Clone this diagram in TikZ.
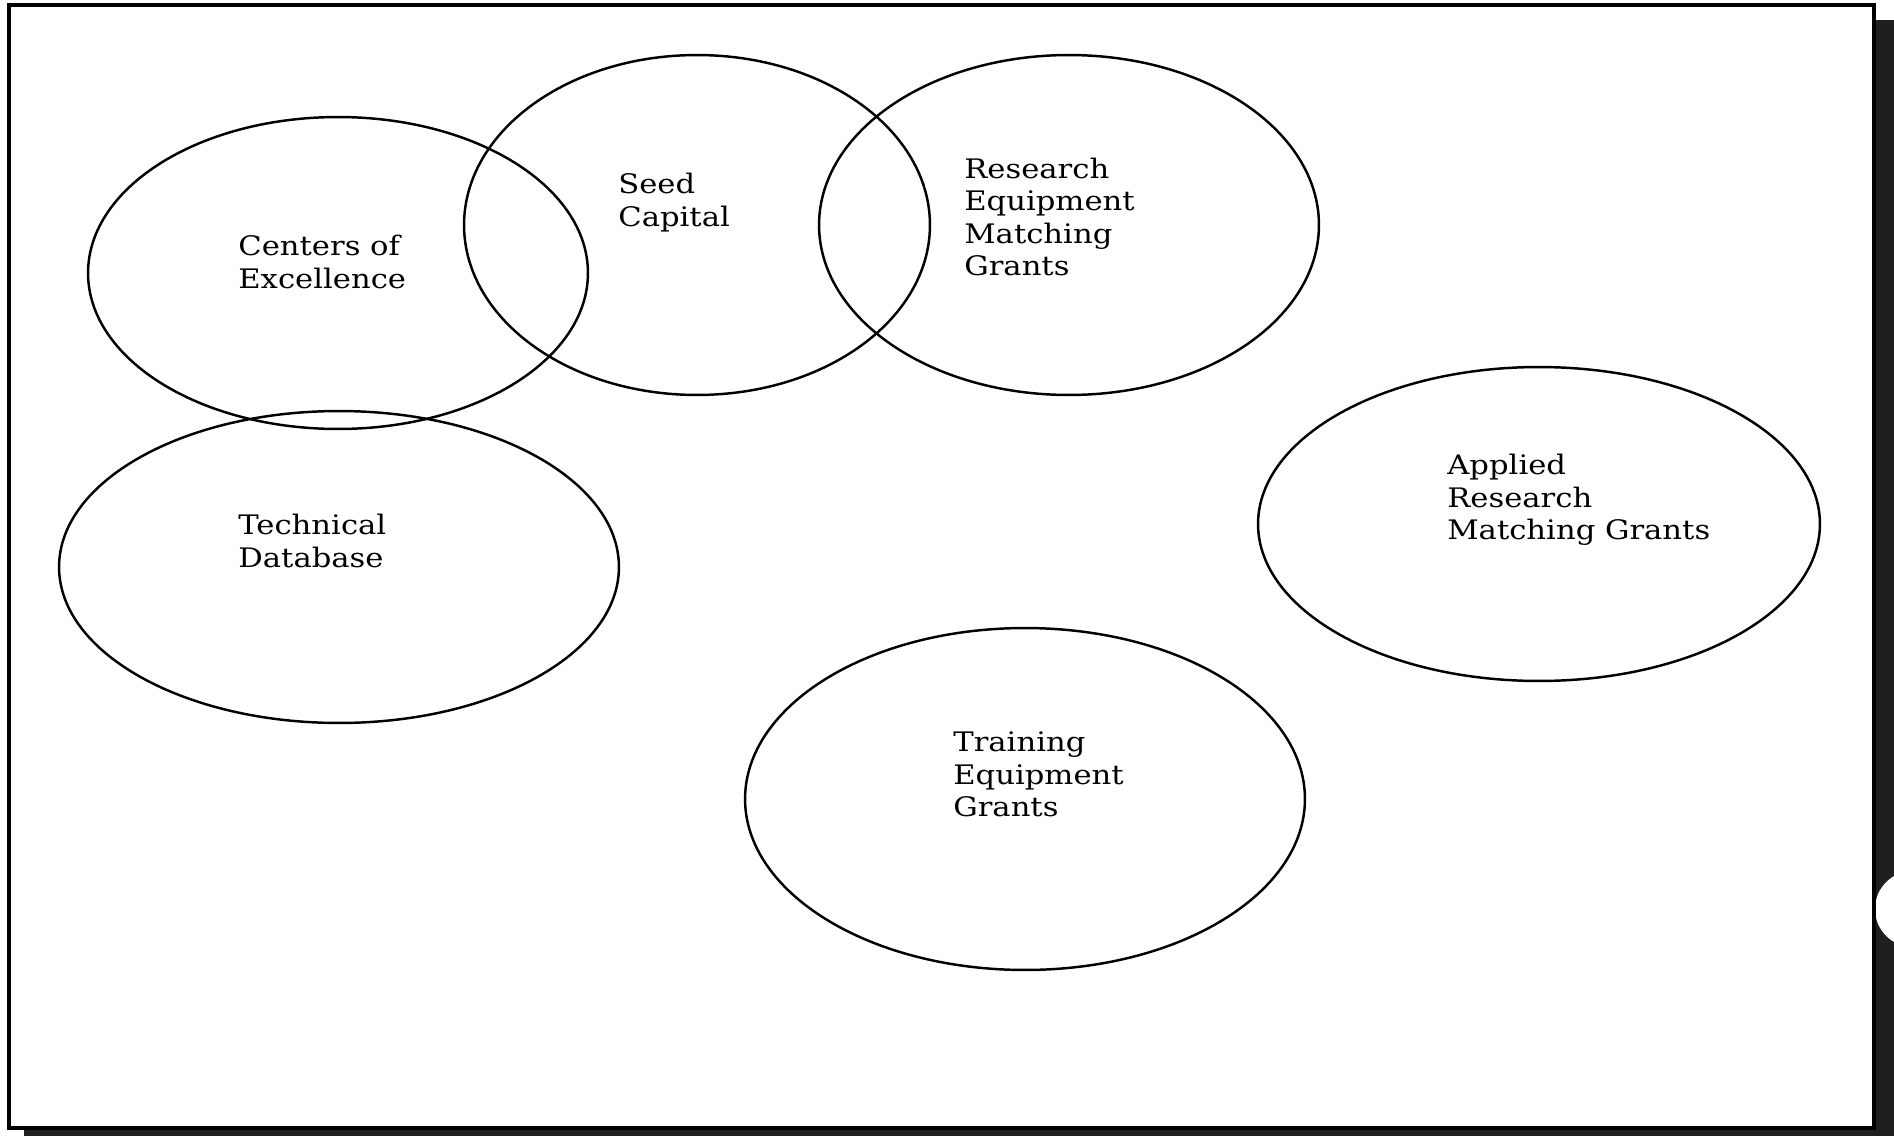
\documentclass[tikz,border=0pt]{standalone}
\usepackage{fontspec}
\setmainfont[FakeStretch=1.14]{DejaVu Serif}
\usetikzlibrary{shapes.geometric}
\begin{document}
\begin{tikzpicture}[x=0.02cm,y=-0.02cm,
  blob/.style={draw=black,ellipse,line width=1.4pt,inner sep=0pt},
  lbl/.style={anchor=west,align=left,inner sep=0pt,font=\fontsize{15.3}{18.5}\selectfont}]
\useasboundingbox (0,0) rectangle (1894,1136);
\fill[white] (0,0) rectangle (1894,1136);
% shadow
\fill[black!88] (1874,20) rectangle (1894,1136);
\fill[black!88] (24,1128) rectangle (1894,1136);
\fill[white] (1913,909) circle[radius=38];
% frame
\draw[line width=2pt] (9,5) rectangle (1874,1128);
% ellipses
\node[blob,minimum width=10cm,minimum height=6.24cm] (coe) at (338,273) {};
\node[blob,minimum width=9.32cm,minimum height=6.8cm] (seed) at (697,225) {};
\node[blob,minimum width=10cm,minimum height=6.8cm] (rem) at (1069,225) {};
\node[blob,minimum width=11.2cm,minimum height=6.24cm] (tdb) at (339,567) {};
\node[blob,minimum width=11.24cm,minimum height=6.28cm] (arm) at (1539,524) {};
\node[blob,minimum width=11.2cm,minimum height=6.84cm] (teg) at (1025,799) {};
% labels
\node[lbl] (tcoe) at (238,262) {Centers of\\Excellence};
\node[lbl] (tseed) at (618,202.5) {Seed\\Capital};
\node[lbl] (trem) at (964,217) {Research\\Equipment\\Matching\\Grants};
\node[lbl] (ttdb) at (238,541) {Technical\\Database};
\node[lbl] (tarm) at (1447,500) {Applied\\Research\\Matching Grants};
\node[lbl] (tteg) at (953,774.5) {Training\\Equipment\\Grants};
\end{tikzpicture}
\end{document}
